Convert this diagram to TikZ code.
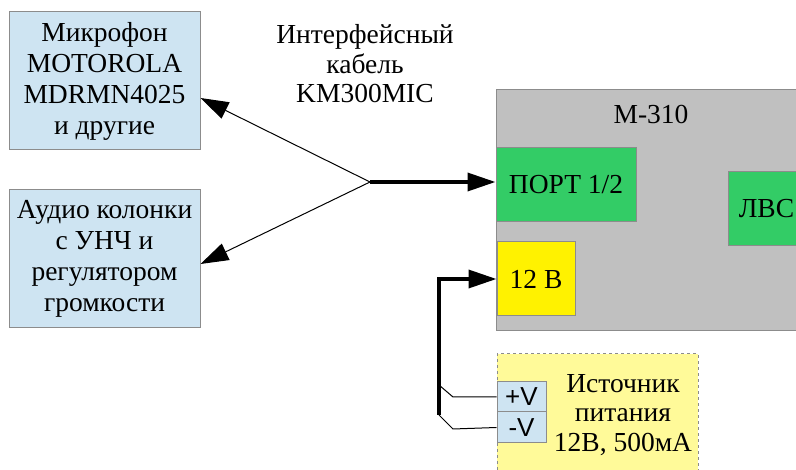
\documentclass[tikz,border=0pt]{standalone}
\usepackage{fontspec}
\setmainfont{Liberation Serif}
\newfontfamily\serf{Liberation Serif}
\newfontfamily\sansf{Liberation Sans}
\usetikzlibrary{arrows.meta}
\definecolor{devblue}{HTML}{CEE4F2}
\definecolor{portgreen}{HTML}{33CC66}
\definecolor{bodygray}{HTML}{C0C0C0}
\definecolor{psuyellow}{HTML}{FFFA99}
\definecolor{edgegray}{HTML}{8C8C8C}
\tikzset{
 blk/.style={draw=edgegray,line width=1pt,inner sep=0pt,align=center,font=\serf\fontsize{27.5}{31}\selectfont},
 lbl/.style={align=center,font=\serf\fontsize{27.5}{29.5}\selectfont},
 tip/.style={-{Triangle[length=28pt,width=18pt]}},
 fat/.style={line width=3.5pt}
}

\begin{document}
\begin{tikzpicture}[x=1pt,y=-1pt]
\useasboundingbox (0,0) rectangle (796,470);
\node[blk,fill=devblue,minimum width=191pt,minimum height=138pt] (mic) at (104.5,81) {Микрофон\\MOTOROLA\\MDRMN4025\\и другие};
\node[blk,fill=devblue,minimum width=191pt,minimum height=138pt] (spk) at (104.5,259) {Аудио колонки\\с УНЧ и\\регулятором\\громкости};
\node[lbl] (cable) at (365,64) {Интерфейсный\\кабель\\KM300MIC};
\node[blk,fill=bodygray,minimum width=319pt,minimum height=241pt] (m310) at (655.5,210.5) {};
\node[lbl] (m310t) at (651,114) {М-310};
\node[blk,fill=portgreen,minimum width=140pt,minimum height=74pt] (port) at (566,185) {ПОРТ 1/2};
\node[blk,fill=portgreen,minimum width=77pt,minimum height=74pt] (lvs) at (766.5,209) {ЛВС};
\node[blk,fill=yellow,minimum width=78pt,minimum height=74pt] (v12) at (536,279) {12 В};
\node[blk,draw=edgegray,dashed,fill=psuyellow,minimum width=201pt,minimum height=121pt] (psu) at (597.5,414.5) {};
\node[lbl] (psut) at (623,415) {Источник\\питания\\12В, 500мА};
\node[blk,fill=devblue,minimum width=49pt,minimum height=30pt,font=\sansf\fontsize{26}{30}\selectfont] (pv) at (521.5,397) {+V};
\node[blk,fill=devblue,minimum width=49pt,minimum height=31pt,font=\sansf\fontsize{26}{30}\selectfont] (mv) at (521.5,427.5) {-V};
\coordinate (j) at (370,182);
\coordinate (b) at (439,415);
\coordinate (a) at (439,385);
\draw[tip,line width=1pt] (j) -- ([yshift=-17pt]mic.east);
\draw[tip,line width=1pt] (j) -- ([yshift=-5pt]spk.east);
\draw[tip,fat] (j) -- (j -| port.west);
\draw[tip,fat] (b) |- (v12.west);
\draw[line width=1pt] (a) -- (453,397) -- (pv.west);
\draw[line width=1pt] (b) -- (453,429) -- (mv.west);
\end{tikzpicture}
\end{document}
